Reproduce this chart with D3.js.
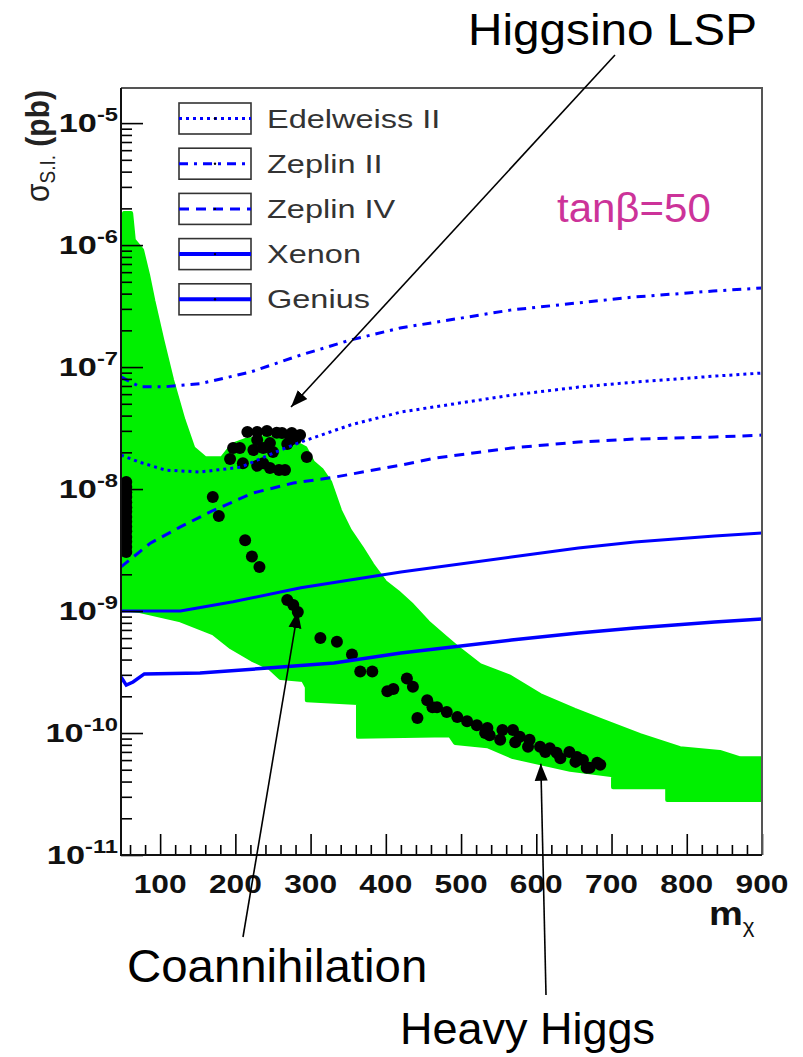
<!DOCTYPE html>
<html>
<head>
<meta charset="utf-8">
<script src="https://cdn.jsdelivr.net/npm/d3@7"></script>
<style>
  html, body { margin: 0; padding: 0; background: #fff; }
  svg { display: block; }
</style>
</head>
<body>
<svg id="chart" width="803" height="1057"></svg>
<script>
// ---------------------------------------------------------------
// Spin-independent neutralino-nucleon cross section vs m_chi, tanβ=50
// ---------------------------------------------------------------

// Experimental sensitivity curves: neutralino mass (GeV) and σ_SI (pb)
const edelweissMass  = [48, 73, 107, 153, 207, 260, 287, 353, 420, 567, 656, 731, 837, 900];
const edelweissSigma = [1.9e-8, 1.66e-8, 1.43e-8, 1.38e-8, 1.51e-8, 2.09e-8, 2.43e-8, 3.35e-8, 4.28e-8, 5.89e-8, 6.85e-8, 7.53e-8, 8.43e-8, 8.93e-8];

const zeplin2Mass  = [48, 73, 107, 153, 220, 286, 352, 419, 565, 654, 729, 835, 900];
const zeplin2Sigma = [8.3e-8, 6.9e-8, 6.9e-8, 7.3e-8, 9.1e-8, 1.25e-7, 1.66e-7, 2.09e-7, 2.93e-7, 3.35e-7, 3.75e-7, 4.2e-7, 4.45e-7];

const zeplin4Mass  = [48, 87, 127, 171, 224, 277, 331, 420, 464, 567, 656, 731, 837, 900];
const zeplin4Sigma = [2.3e-9, 3.6e-9, 4.9e-9, 6.7e-9, 9.3e-9, 1.12e-8, 1.25e-8, 1.57e-8, 1.79e-8, 2.17e-8, 2.43e-8, 2.57e-8, 2.67e-8, 2.77e-8];

const xenonMass  = [48, 127, 197, 287, 420, 567, 656, 731, 837, 900];
const xenonSigma = [1.0e-9, 1.0e-9, 1.19e-9, 1.55e-9, 2.09e-9, 2.77e-9, 3.28e-9, 3.68e-9, 4.12e-9, 4.36e-9];

const geniusMass  = [48, 55, 64, 79, 153, 243, 331, 420, 567, 656, 731, 837, 900];
const geniusSigma = [2.88e-10, 2.47e-10, 2.62e-10, 3.05e-10, 3.1e-10, 3.41e-10, 3.75e-10, 4.53e-10, 5.78e-10, 6.6e-10, 7.26e-10, 8.13e-10, 8.6e-10];

// Envelope of the scanned parameter points (green): upper edge left→right, lower edge right→left
const scanUpperMass  = [48, 52, 61.5, 65, 76, 84, 91, 103, 116, 131, 144, 160, 182, 196, 213, 240, 273, 293, 303, 315,
                        326, 339, 352, 368, 382, 399, 416, 435, 456, 479, 499, 525, 565, 605, 651, 685, 738, 791, 844, 871, 900];
const scanUpperSigma = [1.55e-6, 1.83e-6, 1.83e-6, 1.10e-6, 9.1e-7, 5.7e-7, 3.5e-7, 1.66e-7, 7.8e-8, 3.7e-8,
                        2.17e-8, 1.79e-8, 1.79e-8, 2.3e-8, 2.52e-8, 2.67e-8, 2.52e-8, 2.17e-8, 1.66e-8, 1.43e-8,
                        1.14e-8, 6.7e-9, 4.6e-9, 3.3e-9, 2.4e-9, 1.73e-9, 1.43e-9, 1.12e-9, 8.1e-10, 6.1e-10,
                        4.8e-10, 3.6e-10, 2.9e-10, 2.05e-10, 1.55e-10, 1.28e-10, 9.6e-11, 7.5e-11, 7.0e-11, 6.2e-11, 6.2e-11];
const scanLowerMass  = [900, 774, 774, 702, 702, 645, 569, 535, 492, 485, 363, 363, 295, 295, 290, 260, 246, 222, 193, 170, 127, 73, 48];
const scanLowerSigma = [2.83e-11, 2.83e-11, 3.6e-11, 3.6e-11, 4.5e-11, 5.0e-11, 6.35e-11, 7.8e-11, 8.3e-11, 9.6e-11,
                        9.3e-11, 1.76e-10, 1.86e-10, 2.38e-10, 2.72e-10, 2.83e-10, 3.4e-10, 4.0e-10, 5.1e-10, 6.6e-10,
                        8.4e-10, 1.0e-9, 1.04e-9];

// Points satisfying the relic density constraint (black)
const lightMass  = [55, 55, 55, 55, 55, 55, 55, 55, 55, 55, 55, 55, 55, 55, 55];
const lightSigma = [1.14e-8, 1.04e-8, 9.4e-9, 8.6e-9, 7.8e-9, 7.1e-9, 6.5e-9, 5.9e-9, 5.4e-9, 4.9e-9,
                    4.5e-9, 4.05e-9, 3.7e-9, 3.35e-9, 3.05e-9];

const higgsinoMass  = [216, 242, 262, 275, 286, 229, 246, 269, 206, 237, 250, 295, 193, 210, 229, 246, 258, 255, 281,
                       229, 273, 224, 197, 237, 266];
const higgsinoSigma = [2.93e-8, 2.99e-8, 2.88e-8, 2.88e-8, 2.77e-8, 2.52e-8, 2.38e-8, 2.34e-8, 2.17e-8, 2.17e-8,
                       2.01e-8, 1.83e-8, 1.76e-8, 1.63e-8, 1.55e-8, 1.49e-8, 1.43e-8, 2.9e-8, 2.6e-8,
                       2.93e-8, 2.52e-8, 2.09e-8, 2.17e-8, 1.63e-8, 1.43e-8];

const stripMass  = [170, 178, 213, 222, 232, 269, 277, 283, 313, 335, 355, 366, 382, 402, 410, 428, 436, 442, 455, 462,
                    468, 481, 495, 508, 521, 535, 538, 555, 569, 578, 591, 605, 618, 627, 644, 654, 662, 667, 681,
                    532, 552, 572, 589, 612, 632, 652, 671, 685];
const stripSigma = [8.6e-9, 6.0e-9, 3.8e-9, 2.8e-9, 2.3e-9, 1.23e-9, 1.12e-9, 9.8e-10, 6.0e-10, 5.6e-10,
                    4.4e-10, 3.2e-10, 3.2e-10, 2.2e-10, 2.3e-10, 2.8e-10, 2.4e-10, 1.33e-10, 1.86e-10, 1.63e-10,
                    1.63e-10, 1.49e-10, 1.35e-10, 1.25e-10, 1.16e-10, 1.10e-10, 9.6e-11, 1.06e-10, 1.06e-10, 9.3e-11,
                    8.8e-11, 7.7e-11, 7.5e-11, 6.9e-11, 7.0e-11, 6.35e-11, 6.0e-11, 5.2e-11, 5.7e-11,
                    1.0e-10, 8.8e-11, 8.4e-11, 7.7e-11, 7.0e-11, 6.2e-11, 5.8e-11, 5.2e-11, 5.5e-11];

// Axis ticks
const xTickValues    = [100, 200, 300, 400, 500, 600, 700, 800, 900];
const yTickExponents = [-11, -10, -9, -8, -7, -6, -5];

// Legend
const legendLabels = ["Edelweiss II", "Zeplin II", "Zeplin IV", "Xenon", "Genius"];

// Annotations: arrow tip in data coordinates, label text
const noteLabels   = ["Higgsino LSP", "Coannihilation", "Heavy Higgs"];
const noteTipMass  = [274, 283, 606];
const noteTipSigma = [4.7e-8, 1.0e-9, 5.6e-11];

// ---------------------------------------------------------------
const FONT = "'Liberation Sans', Arial, Helvetica, sans-serif";
const BLUE = "#0000ff";
const GREEN = "#00f000";
const svg = d3.select("#chart");
const plot = { left: 121, right: 762, top: 88, bottom: 855 };

const x = d3.scaleLinear().domain([48, 900]).range([plot.left, plot.right]);
const y = d3.scaleLog().domain([1e-11, 1.94e-5]).range([plot.bottom, plot.top]);

svg.append("rect").attr("width", 803).attr("height", 1057).attr("fill", "#fff");

const defs = svg.append("defs");
defs.append("clipPath").attr("id", "plotClip")
  .append("rect")
  .attr("x", plot.left).attr("y", plot.top)
  .attr("width", plot.right - plot.left).attr("height", plot.bottom - plot.top);
defs.append("marker")
  .attr("id", "arrowHead")
  .attr("markerUnits", "userSpaceOnUse")
  .attr("markerWidth", 18).attr("markerHeight", 14)
  .attr("refX", 17).attr("refY", 7)
  .attr("orient", "auto")
  .append("path")
  .attr("d", "M0,0.5 L17,7 L0,13.5 Z")
  .attr("fill", "#000");

const gPlot = svg.append("g").attr("clip-path", "url(#plotClip)");
const pathOf = d3.line().x(d => x(d[0])).y(d => y(d[1]));
const zip = (a, b) => a.map((v, i) => [v, b[i]]);

// Scan envelope
const envelope = zip(scanUpperMass, scanUpperSigma).concat(zip(scanLowerMass, scanLowerSigma));
gPlot.append("path")
  .attr("d", pathOf(envelope) + "Z")
  .attr("fill", GREEN)
  .attr("stroke", GREEN)
  .attr("stroke-width", 4)
  .attr("stroke-linejoin", "round");

// Black points
const blackPts = zip(lightMass, lightSigma)
  .concat(zip(higgsinoMass, higgsinoSigma))
  .concat(zip(stripMass, stripSigma));
gPlot.append("g").selectAll("circle")
  .data(blackPts).join("circle")
  .attr("cx", d => x(d[0])).attr("cy", d => y(d[1]))
  .attr("r", 6).attr("fill", "#000");

// Sensitivity curves
const limits = [
  { mass: edelweissMass, sigma: edelweissSigma, dash: "3,4",      width: 3 },
  { mass: zeplin2Mass,   sigma: zeplin2Sigma,   dash: "9,6,3,6",  width: 3 },
  { mass: zeplin4Mass,   sigma: zeplin4Sigma,   dash: "10,7",     width: 3 },
  { mass: xenonMass,     sigma: xenonSigma,     dash: null,       width: 3 },
  { mass: geniusMass,    sigma: geniusSigma,    dash: null,       width: 3.5 }
];
limits.forEach(l => {
  gPlot.append("path")
    .attr("d", pathOf(zip(l.mass, l.sigma)))
    .attr("fill", "none")
    .attr("stroke", BLUE)
    .attr("stroke-width", l.width)
    .attr("stroke-dasharray", l.dash);
});

// Axes (ticks pointing into the frame)
const yMajor = yTickExponents.map(e => Math.pow(10, e));
const yMinor = [];
yTickExponents.forEach(e => {
  for (let k = 2; k <= 9; k++) {
    const v = k * Math.pow(10, e);
    if (v <= y.domain()[1]) yMinor.push(v);
  }
});
const xMinor = d3.range(60, 900, 20).filter(v => v % 100 !== 0);

function styleAxis(g) {
  g.select(".domain").remove();
  g.selectAll(".tick line").attr("stroke", "#000").attr("stroke-width", 1.6);
}
svg.append("g").attr("transform", `translate(${plot.left},0)`)
  .call(d3.axisRight(y).tickValues(yMajor).tickSize(22).tickFormat("")).call(styleAxis);
svg.append("g").attr("transform", `translate(${plot.left},0)`)
  .call(d3.axisRight(y).tickValues(yMinor).tickSize(11).tickFormat("")).call(styleAxis);
svg.append("g").attr("transform", `translate(0,${plot.bottom})`)
  .call(d3.axisTop(x).tickValues(xTickValues).tickSize(21).tickFormat("")).call(styleAxis);
svg.append("g").attr("transform", `translate(0,${plot.bottom})`)
  .call(d3.axisTop(x).tickValues(xMinor).tickSize(10).tickFormat("")).call(styleAxis);

// Frame
svg.append("path")
  .attr("d", `M${plot.left},${plot.top} H${plot.right} V${plot.bottom}`)
  .attr("fill", "none").attr("stroke", "#555").attr("stroke-width", 2);
svg.append("path")
  .attr("d", `M${plot.left},${plot.top} V${plot.bottom} H${plot.right}`)
  .attr("fill", "none").attr("stroke", "#111").attr("stroke-width", 2);

// Tick labels
yTickExponents.forEach(e => {
  const t = svg.append("text")
    .attr("transform", `translate(118,${y(Math.pow(10, e)) + 9}) scale(1.32,1)`)
    .attr("text-anchor", "end")
    .attr("font-family", FONT).attr("font-weight", "bold")
    .attr("font-size", 26).attr("fill", "#111");
  t.append("tspan").text("10");
  t.append("tspan").attr("dy", -11).attr("font-size", 18).text(String(e));
});
xTickValues.forEach(v => {
  svg.append("text")
    .attr("transform", `translate(${x(v)},893) scale(1.22,1)`)
    .attr("text-anchor", "middle")
    .attr("font-family", FONT).attr("font-weight", "bold")
    .attr("font-size", 26).attr("fill", "#111")
    .text(v);
});

// Axis titles
const xTitle = svg.append("text")
  .attr("transform", "translate(709,925) scale(1.12,1)")
  .attr("font-family", FONT).attr("fill", "#111");
xTitle.append("tspan").attr("font-weight", "bold").attr("font-size", 34).text("m");
xTitle.append("tspan").attr("font-size", 20).attr("dy", 8).text("χ");

const yTitle = svg.append("text")
  .attr("transform", "translate(49,90) rotate(-90) scale(1,1.12)")
  .attr("text-anchor", "end")
  .attr("font-family", FONT).attr("font-size", 30).attr("fill", "#222");
yTitle.append("tspan").text("σ");
yTitle.append("tspan").attr("font-size", 19).attr("dy", 5).text("S.I.");
yTitle.append("tspan").attr("dy", -5).attr("font-weight", "bold").text(" (pb)");

// Legend
const legendDash = limits.map(l => l.dash);
legendLabels.forEach((label, i) => {
  const cy = 118.5 + i * 45.2;
  const g = svg.append("g");
  g.append("rect")
    .attr("x", 179).attr("y", cy - 15.5).attr("width", 72).attr("height", 31)
    .attr("fill", "#fff").attr("stroke", "#333").attr("stroke-width", 1.6);
  g.append("line")
    .attr("x1", 179).attr("x2", 251).attr("y1", cy).attr("y2", cy)
    .attr("stroke", BLUE).attr("stroke-width", legendDash[i] ? 3 : 4)
    .attr("stroke-dasharray", legendDash[i]);
  g.append("circle").attr("cx", 215).attr("cy", cy).attr("r", 1.2).attr("fill", "#000");
  g.append("text")
    .attr("transform", `translate(267,${cy + 9}) scale(1.3,1)`)
    .attr("font-family", FONT).attr("font-size", 25).attr("fill", "#333")
    .text(label);
});

// tanβ label
svg.append("text")
  .attr("transform", "translate(557,222) scale(1.05,1)")
  .attr("font-family", FONT).attr("font-size", 40).attr("fill", "#cc3399")
  .text("tanβ=50");

// Annotations with arrows
const noteTail = [[615, 55], [243, 937], [546, 995]];
const noteText = [
  { x: 468, y: 45,   size: 45, sx: 1.06 },
  { x: 127, y: 982,  size: 46, sx: 1.03 },
  { x: 400, y: 1044, size: 45, sx: 1.0 }
];
noteLabels.forEach((label, i) => {
  svg.append("line")
    .attr("x1", noteTail[i][0]).attr("y1", noteTail[i][1])
    .attr("x2", x(noteTipMass[i])).attr("y2", y(noteTipSigma[i]))
    .attr("stroke", "#000").attr("stroke-width", 1.6)
    .attr("marker-end", "url(#arrowHead)");
  svg.append("text")
    .attr("transform", `translate(${noteText[i].x},${noteText[i].y}) scale(${noteText[i].sx},1)`)
    .attr("font-family", FONT).attr("font-size", noteText[i].size).attr("fill", "#000")
    .text(label);
});
</script>
</body>
</html>
